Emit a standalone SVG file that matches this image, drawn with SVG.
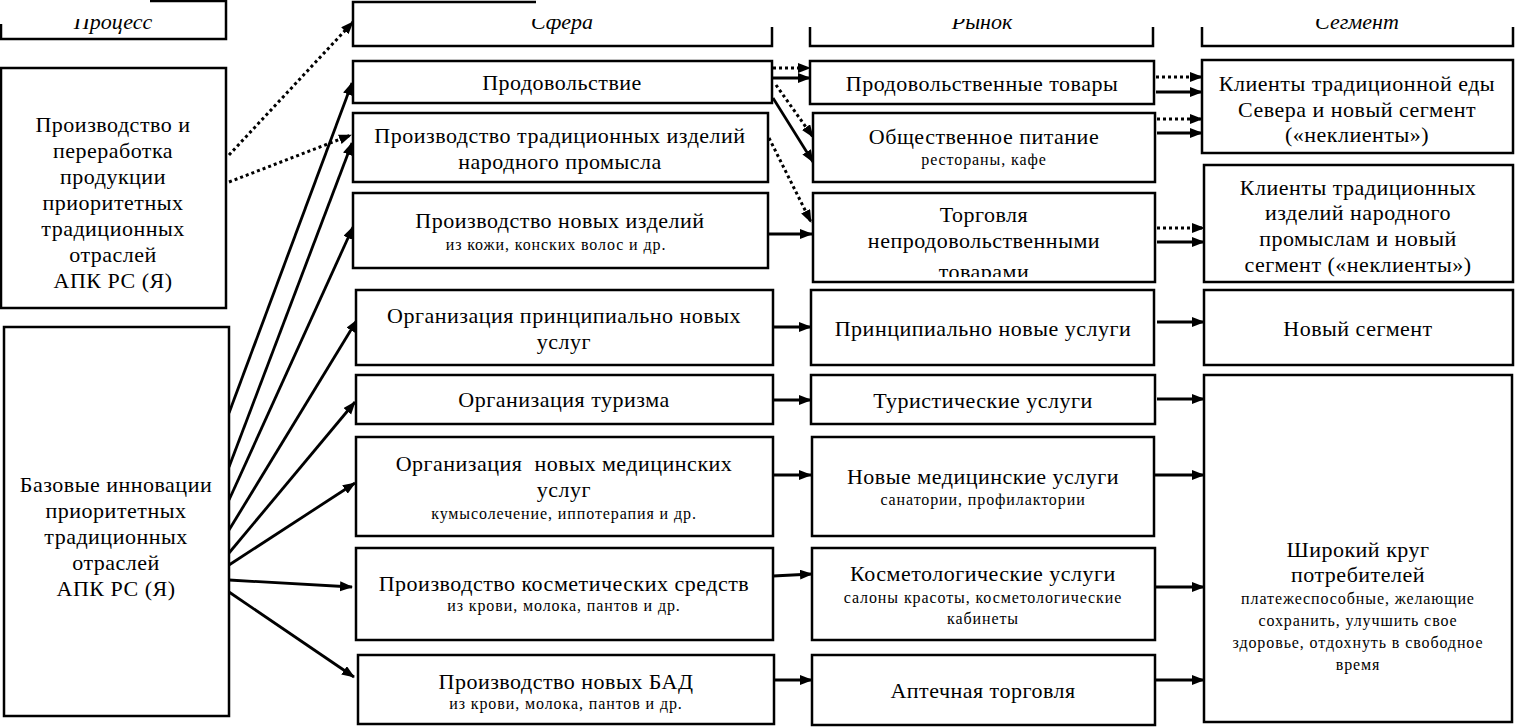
<svg xmlns="http://www.w3.org/2000/svg" width="1515" height="727" viewBox="0 0 1515 727">
<style>
.box{fill:#fff;stroke:#000;stroke-width:2.5}
.t{font-family:"Liberation Serif","DejaVu Serif",serif;font-size:22px;letter-spacing:0.5px;text-anchor:middle;fill:#000}
.s{font-family:"Liberation Serif","DejaVu Serif",serif;font-size:16px;letter-spacing:0.9px;text-anchor:middle;fill:#000}
.h{font-family:"Liberation Serif","DejaVu Serif",serif;font-size:22px;font-style:italic;text-anchor:middle;fill:#000}
.sol{stroke:#000;stroke-width:2.8;fill:none;marker-end:url(#ah)}
.dot{stroke:#000;stroke-width:3;fill:none;stroke-dasharray:3 3;marker-end:url(#ah)}
</style>
<defs>
<marker id="ah" markerUnits="userSpaceOnUse" markerWidth="14" markerHeight="12" refX="12" refY="5" orient="auto">
<path d="M0,0 L13,5 L0,10 z" fill="#000"/>
</marker>
<clipPath id="hclip"><rect x="0" y="19" width="1515" height="20"/></clipPath>
<clipPath id="tovclip"><rect x="812" y="193" width="343" height="84"/></clipPath>
</defs>

<g id="headers">
<rect class="box" x="1" y="1" width="225" height="38"/>
<rect class="box" x="353" y="2" width="419" height="44"/>
<rect class="box" x="810" y="3" width="343" height="43"/>
<rect class="box" x="1202" y="3" width="311" height="43"/>
<rect x="0" y="-2" width="150" height="26" fill="#fff"/>
<rect x="536" y="-2" width="980" height="29" fill="#fff"/>
<g clip-path="url(#hclip)">
<text class="h" x="113" y="29">Процесс</text>
<text class="h" x="562" y="29">Сфера</text>
<text class="h" x="982" y="29">Рынок</text>
<text class="h" x="1357" y="29">Сегмент</text>
</g>
</g>

<g id="connectors">
<path class="dot" d="M229,155 L353,22"/>
<path class="dot" d="M229,182 L351,135"/>
<path class="sol" d="M229,413 L352,83"/>
<path class="sol" d="M229,467 L352,143"/>
<path class="sol" d="M229,500 L353,227"/>
<path class="sol" d="M229,530 L357,320"/>
<path class="sol" d="M229,553 L355,402"/>
<path class="sol" d="M229,565 L355,483"/>
<path class="sol" d="M229,580 L352,587"/>
<path class="sol" d="M229,592 L354,677"/>

<path class="dot" d="M773,68 L810,68"/>
<path class="sol" d="M773,78 L810,78"/>
<path class="dot" d="M776,85 L813,137"/>
<path class="sol" d="M773,98 L813,162"/>
<path class="dot" d="M769,138 L811,222"/>
<path class="sol" d="M768,234 L812,234"/>
<path class="sol" d="M773,327 L811,327"/>
<path class="sol" d="M773,400 L811,400"/>
<path class="sol" d="M773,475 L811,475"/>
<path class="sol" d="M773,576 L812,574"/>
<path class="sol" d="M775,680 L812,680"/>

<path class="dot" d="M1156,77 L1202,77"/>
<path class="sol" d="M1156,92 L1202,92"/>
<path class="dot" d="M1157,119 L1202,119"/>
<path class="sol" d="M1157,133 L1202,133"/>
<path class="dot" d="M1157,228 L1204,228"/>
<path class="sol" d="M1157,242 L1204,242"/>
<path class="sol" d="M1157,322 L1204,322"/>
<path class="sol" d="M1157,399 L1204,399"/>
<path class="sol" d="M1155,475 L1204,475"/>
<path class="sol" d="M1156,587 L1204,587"/>
<path class="sol" d="M1156,680 L1204,680"/>
</g>

<g id="n-proizv">
<rect class="box" x="1" y="68" width="225" height="240"/>
<text class="t" x="113" y="132">Производство и</text>
<text class="t" x="113" y="158">переработка</text>
<text class="t" x="113" y="184">продукции</text>
<text class="t" x="113" y="210">приоритетных</text>
<text class="t" x="113" y="236">традиционных</text>
<text class="t" x="113" y="262">отраслей</text>
<text class="t" x="113" y="288">АПК РС (Я)</text>
</g>
<g id="n-baz">
<rect class="box" x="4" y="327" width="225" height="389"/>
<text class="t" x="116" y="492">Базовые инновации</text>
<text class="t" x="116" y="518">приоритетных</text>
<text class="t" x="116" y="544">традиционных</text>
<text class="t" x="116" y="570">отраслей</text>
<text class="t" x="116" y="596">АПК РС (Я)</text>
</g>

<g id="n-prodov">
<rect class="box" x="353" y="61" width="419" height="42"/>
<text class="t" x="562" y="90">Продовольствие</text>
</g>
<g id="n-trad">
<rect class="box" x="353" y="113" width="415" height="69"/>
<text class="t" x="560" y="143">Производство традиционных изделий</text>
<text class="t" x="560" y="169">народного промысла</text>
</g>
<g id="n-novizd">
<rect class="box" x="353" y="193" width="415" height="75"/>
<text class="t" x="560" y="228">Производство новых изделий</text>
<text class="s" x="556" y="250">из кожи, конских волос и др.</text>
</g>
<g id="n-princ">
<rect class="box" x="356" y="290" width="417" height="75"/>
<text class="t" x="564" y="323">Организация принципиально новых</text>
<text class="t" x="564" y="349">услуг</text>
</g>
<g id="n-tur">
<rect class="box" x="356" y="375" width="417" height="49"/>
<text class="t" x="564" y="407">Организация туризма</text>
</g>
<g id="n-med">
<rect class="box" x="356" y="437" width="417" height="99"/>
<text class="t" x="564" y="471" xml:space="preserve">Организация  новых медицинских</text>
<text class="t" x="564" y="497">услуг</text>
<text class="s" x="564" y="519">кумысолечение, иппотерапия и др.</text>
</g>
<g id="n-kosm">
<rect class="box" x="356" y="548" width="417" height="92"/>
<text class="t" x="564" y="591">Производство косметических средств</text>
<text class="s" x="564" y="611">из крови, молока, пантов и др.</text>
</g>
<g id="n-bad">
<rect class="box" x="358" y="655" width="416" height="69"/>
<text class="t" x="566" y="689">Производство новых БАД</text>
<text class="s" x="566" y="709">из крови, молока, пантов и др.</text>
</g>

<g id="n-prodtov">
<rect class="box" x="810" y="61" width="344" height="43"/>
<text class="t" x="982" y="91">Продовольственные товары</text>
</g>
<g id="n-obshch">
<rect class="box" x="813" y="113" width="342" height="69"/>
<text class="t" x="984" y="144">Общественное питание</text>
<text class="s" x="984" y="165">рестораны, кафе</text>
</g>
<g id="n-torg">
<rect class="box" x="813" y="193" width="342" height="89"/>
<text class="t" x="984" y="222">Торговля</text>
<text class="t" x="984" y="248">непродовольственными</text>
<text class="t" x="984" y="279" clip-path="url(#tovclip)">товарами</text>
</g>
<g id="n-princusl">
<rect class="box" x="811" y="290" width="343" height="75"/>
<text class="t" x="983" y="336">Принципиально новые услуги</text>
</g>
<g id="n-turusl">
<rect class="box" x="811" y="375" width="344" height="49"/>
<text class="t" x="983" y="408">Туристические услуги</text>
</g>
<g id="n-medusl">
<rect class="box" x="812" y="437" width="342" height="99"/>
<text class="t" x="983" y="484">Новые медицинские услуги</text>
<text class="s" x="983" y="505">санатории, профилактории</text>
</g>
<g id="n-kosmusl">
<rect class="box" x="812" y="548" width="343" height="92"/>
<text class="t" x="983" y="581">Косметологические услуги</text>
<text class="s" x="983" y="603">салоны красоты, косметологические</text>
<text class="s" x="983" y="624">кабинеты</text>
</g>
<g id="n-apt">
<rect class="box" x="812" y="655" width="343" height="70"/>
<text class="t" x="983" y="698">Аптечная торговля</text>
</g>

<g id="n-klient1">
<rect class="box" x="1202" y="60" width="311" height="93"/>
<text class="t" x="1357" y="91">Клиенты традиционной еды</text>
<text class="t" x="1357" y="117">Севера и новый сегмент</text>
<text class="t" x="1357" y="142">(«неклиенты»)</text>
</g>
<g id="n-klient2">
<rect class="box" x="1204" y="165" width="309" height="117"/>
<text class="t" x="1358" y="195">Клиенты традиционных</text>
<text class="t" x="1358" y="220">изделий народного</text>
<text class="t" x="1358" y="246">промыслам и новый</text>
<text class="t" x="1358" y="272">сегмент («неклиенты»)</text>
</g>
<g id="n-novseg">
<rect class="box" x="1204" y="290" width="309" height="75"/>
<text class="t" x="1358" y="336">Новый сегмент</text>
</g>
<g id="n-shirok">
<rect class="box" x="1204" y="375" width="308" height="347"/>
<text class="t" x="1358" y="557">Широкий круг</text>
<text class="t" x="1358" y="582">потребителей</text>
<text class="s" x="1358" y="604">платежеспособные, желающие</text>
<text class="s" x="1358" y="626">сохранить, улучшить свое</text>
<text class="s" x="1358" y="648">здоровье, отдохнуть в свободное</text>
<text class="s" x="1358" y="670">время</text>
</g>
</svg>
